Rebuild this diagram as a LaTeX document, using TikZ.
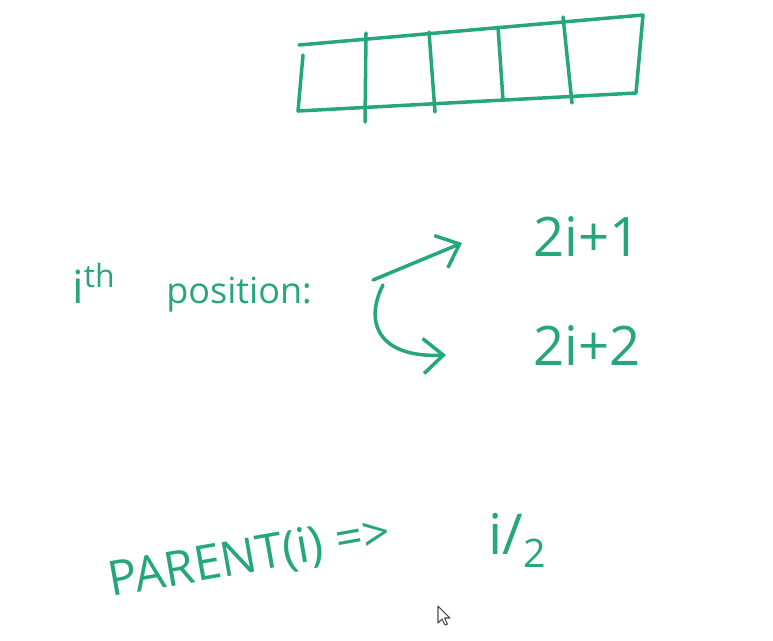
\documentclass[tikz,border=0pt]{standalone}
\usepackage{fontspec}
\setmainfont{Open Sans}
\usepackage{tikz}
\usetikzlibrary{arrows.meta}
\definecolor{cInk}{RGB}{38,166,124}
\tikzset{
	ink/.style ={draw=cInk, line width=2pt, line cap=round, line join=round},
	lbl/.style ={text=cInk, inner sep=0pt, anchor=base west},
	barb/.style={ink, -{Straight Barb[length=4mm, width=7mm]}},
	ptr/.style ={draw=black!70, fill=white, line width=0.6pt, line join=round},
}

\begin{document}
\begin{tikzpicture}[x=0.02cm, y=-0.02cm]
	\useasboundingbox (0,0) rectangle (773,640);
	% array of five cells
	\draw[ink] (299,45) -- (643,15) -- (636,93) -- (298,111);
	\draw[ink] (303,55) -- (298,111);
	\foreach \xa/\ya/\xb/\yb in {366/33/365/122, 429/32/435/112, 498/27/503/100, 563/17/572/103}
		\draw[ink] (\xa,\ya) -- (\xb,\yb);
	% labels
	\node[lbl, font=\fontsize{26}{30}\selectfont] (ith) at (72,303) {i\textsuperscript{th}};
	\node[lbl, font=\fontsize{20.5}{24}\selectfont] (pos) at (166,303) {position:};
	\node[lbl, font=\fontsize{31}{35}\selectfont] (leftkid) at (533,256) {2i+1};
	\node[lbl, font=\fontsize{31}{35}\selectfont] (rightkid) at (533,365) {2i+2};
	\node[lbl, rotate=10, font=\fontsize{27.5}{32}\selectfont] (parent) at (111,597) {PARENT(i) =>};
	\node[lbl, font=\fontsize{32}{36}\selectfont] (half) at (488,554) {i/\textsubscript{2}};
	% arrows to the children
	\coordinate (fork) at (373,280);
	\coordinate (upend) at (462,243);
	\coordinate (lowstart) at (383,285);
	\coordinate (lowend) at (446,355);
	\draw[barb] (fork) -- (upend);
	\draw[barb] (lowstart) .. controls (364,322) and (378,358) .. (lowend);
	% mouse pointer
	\draw[ptr] (438,606) -- ++(0,17) -- ++(4,-4) -- ++(3,6) -- ++(2.5,-1) -- ++(-3,-6) -- ++(5.5,0) -- cycle;
\end{tikzpicture}
\end{document}
